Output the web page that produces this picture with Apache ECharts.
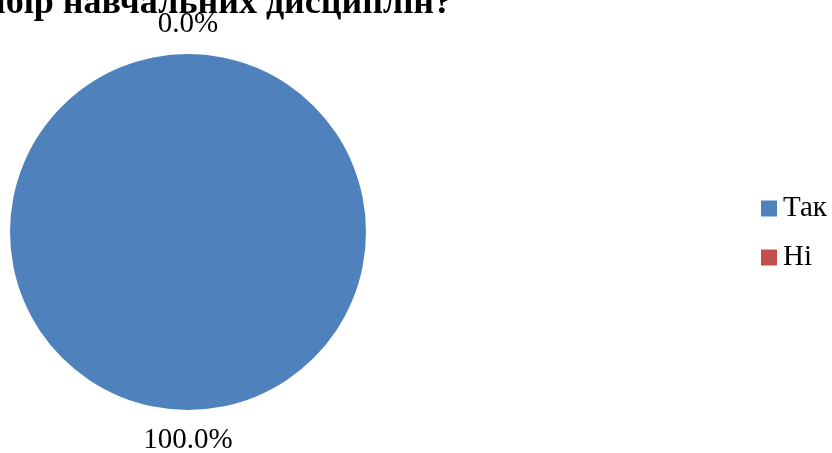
<!DOCTYPE html>
<html>
<head>
<meta charset="utf-8">
<script src="https://cdn.jsdelivr.net/npm/echarts@6/dist/echarts.min.js"></script>
<style>
html,body{margin:0;padding:0;background:#fff;}
#c{width:832px;height:453px;}
</style>
</head>
<body>
<div id="c"></div>
<script>
const titleText = 'вибір навчальних дисциплін?';
const categories = ['Так', 'Ні'];
const values = [100, 0];
const colors = ['#4F81BD', '#C0504D'];

const chart = echarts.init(document.getElementById('c'), null, {renderer: 'canvas'});
const font = 'Liberation Serif';
const total = values.reduce((a, b) => a + b, 0);

chart.setOption({
  animation: false,
  backgroundColor: '#ffffff',
  graphic: [{
    type: 'text',
    right: 380,
    top: -14,
    style: {
      text: titleText,
      font: 'bold 36px "Liberation Serif"',
      fill: '#000'
    }
  }],
  legend: {
    orient: 'vertical',
    left: 756,
    top: 189,
    icon: 'rect',
    itemWidth: 16,
    itemHeight: 16,
    itemGap: 20,
    textStyle: {fontFamily: font, fontSize: 29, color: '#000', padding: [0, 0, 0, 1]},
    data: categories
  },
  series: [{
    type: 'pie',
    center: [188, 232],
    radius: 178,
    startAngle: 90,
    clockwise: true,
    avoidLabelOverlap: false,
    itemStyle: {borderWidth: 0},
    label: {
      show: true,
      position: 'outside',
      distanceToLabelLine: 0,
      fontFamily: font,
      fontSize: 29,
      color: '#000',
      formatter: p => (p.value / total * 100).toFixed(1) + '%'
    },
    labelLine: {show: false, length: 30, length2: 0},
    labelLayout: () => ({align: 'center'}),
    emphasis: {disabled: true},
    data: categories.map((c, i) => ({name: c, value: values[i], itemStyle: {color: colors[i]}}))
  }]
});
</script>
</body>
</html>
